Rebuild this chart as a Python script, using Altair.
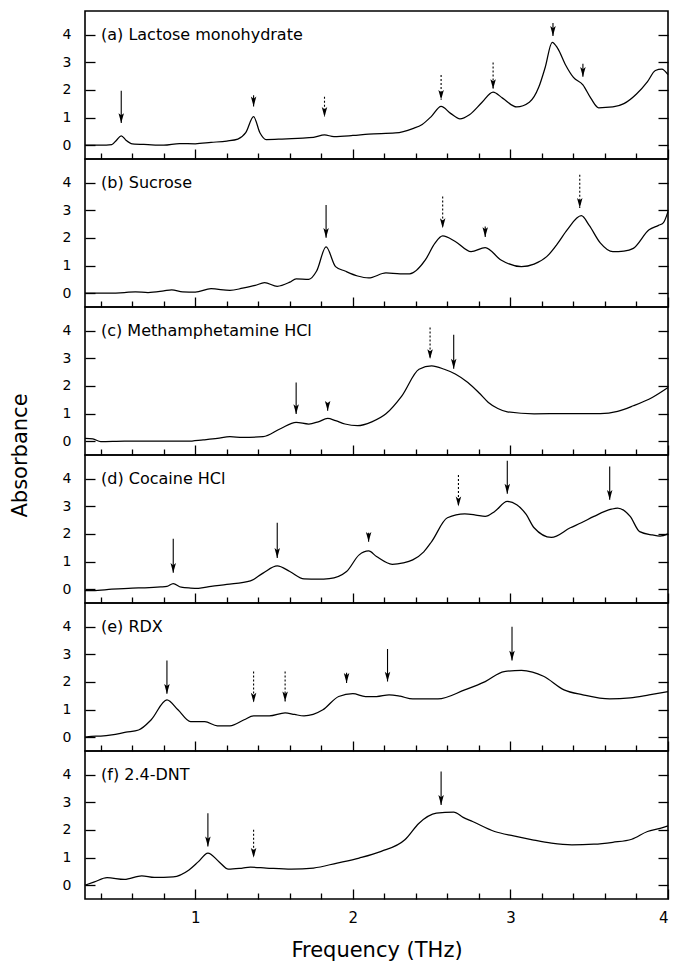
import altair as alt
import pandas as pd

XMIN, XMAX = 0.3, 4.0
YMIN, YMAX = -0.5, 4.85
W, H = 583, 148

panel_labels = ["(a) Lactose monohydrate", "(b) Sucrose", "(c) Methamphetamine HCl",
                "(d) Cocaine HCl", "(e) RDX", "(f) 2.4-DNT"]

major_ticks = [1, 2, 3, 4]
minor_ticks = [0.4, 0.6, 0.8, 1.2, 1.4, 1.6, 1.8, 2.2, 2.4, 2.6, 2.8, 3.2, 3.4, 3.6, 3.8]
y_ticks = [0, 1, 2, 3, 4]

# (a) Lactose monohydrate
lactose_f = [0.30, 0.40, 0.47, 0.50, 0.53, 0.56, 0.60, 0.70, 0.80, 0.90, 1.00, 1.10, 1.20, 1.27, 1.32,
             1.37, 1.41, 1.45, 1.55, 1.65, 1.75, 1.82, 1.88, 2.00, 2.10, 2.27, 2.38, 2.44, 2.50, 2.56,
             2.62, 2.68, 2.74, 2.82, 2.89, 2.95, 3.04, 3.12, 3.18, 3.22, 3.265, 3.30, 3.35, 3.40, 3.46,
             3.51, 3.56, 3.65, 3.72, 3.80, 3.87, 3.92, 3.96, 4.00]
lactose_a = [0.00, 0.00, 0.02, 0.18, 0.34, 0.18, 0.05, 0.02, 0.00, 0.06, 0.05, 0.10, 0.15, 0.22, 0.45,
             1.03, 0.45, 0.20, 0.22, 0.25, 0.28, 0.37, 0.31, 0.35, 0.40, 0.44, 0.60, 0.75, 1.05, 1.40,
             1.15, 0.95, 1.10, 1.55, 1.92, 1.70, 1.38, 1.55, 2.10, 2.80, 3.72, 3.50, 2.90, 2.45, 2.18,
             1.70, 1.35, 1.38, 1.50, 1.85, 2.30, 2.70, 2.75, 2.55]
lactose_arrow_f = [0.53, 1.37, 1.82, 2.56, 2.89, 3.27, 3.46]
lactose_arrow_tip = [0.80, 1.40, 1.02, 1.64, 2.03, 3.95, 2.47]
lactose_arrow_tail = [1.97, 1.80, 1.75, 2.54, 2.99, 4.42, 2.94]
lactose_arrow_style = ["solid", "solid", "dotted", "dotted", "dotted", "solid", "solid"]

# (b) Sucrose
sucrose_f = [0.30, 0.45, 0.55, 0.62, 0.70, 0.80, 0.85, 0.92, 1.00, 1.10, 1.22, 1.30, 1.38, 1.44, 1.52,
             1.60, 1.64, 1.72, 1.77, 1.83, 1.89, 1.95, 2.03, 2.10, 2.21, 2.30, 2.36, 2.46, 2.52, 2.57,
             2.65, 2.75, 2.84, 2.94, 3.07, 3.15, 3.23, 3.30, 3.36, 3.45, 3.50, 3.57, 3.65, 3.72, 3.78,
             3.88, 3.94, 3.97, 4.00]
sucrose_a = [0.00, 0.00, 0.02, 0.05, 0.02, 0.08, 0.12, 0.05, 0.04, 0.16, 0.10, 0.18, 0.28, 0.38, 0.25,
             0.40, 0.52, 0.50, 0.80, 1.67, 0.96, 0.80, 0.62, 0.55, 0.73, 0.70, 0.70, 1.20, 1.80, 2.07,
             1.87, 1.50, 1.65, 1.20, 0.96, 1.05, 1.32, 1.80, 2.29, 2.80, 2.45, 1.82, 1.50, 1.52, 1.62,
             2.29, 2.45, 2.54, 2.95]
sucrose_arrow_f = [1.83, 2.57, 2.84, 3.44]
sucrose_arrow_tip = [2.00, 2.35, 2.03, 3.08]
sucrose_arrow_tail = [3.19, 3.49, 2.41, 4.28]
sucrose_arrow_style = ["solid", "dotted", "solid", "dotted"]

# (c) Methamphetamine HCl
meth_f = [0.30, 0.35, 0.40, 0.55, 0.70, 0.85, 0.95, 1.05, 1.14, 1.22, 1.30, 1.43, 1.54, 1.64, 1.72,
          1.78, 1.84, 1.89, 1.95, 2.03, 2.12, 2.21, 2.31, 2.42, 2.50, 2.58, 2.65, 2.73, 2.80, 2.86,
          2.92, 2.98, 3.15, 3.35, 3.57, 3.68, 3.78, 3.90, 4.00]
meth_a = [0.10, 0.08, -0.02, 0.00, 0.00, 0.00, 0.00, 0.05, 0.10, 0.16, 0.14, 0.16, 0.45, 0.68, 0.62,
          0.70, 0.82, 0.74, 0.62, 0.56, 0.70, 0.99, 1.63, 2.60, 2.72, 2.60, 2.43, 2.12, 1.75, 1.40,
          1.18, 1.06, 0.99, 1.00, 1.00, 1.08, 1.28, 1.58, 1.94]
meth_arrow_f = [1.64, 1.84, 2.49, 2.64]
meth_arrow_tip = [0.98, 1.10, 2.97, 2.62]
meth_arrow_tail = [2.12, 1.36, 4.11, 3.85]
meth_arrow_style = ["solid", "solid", "dotted", "solid"]

# (d) Cocaine HCl
cocaine_f = [0.30, 0.35, 0.47, 0.60, 0.68, 0.78, 0.82, 0.86, 0.91, 0.97, 1.02, 1.10, 1.20, 1.35, 1.43,
             1.52, 1.60, 1.69, 1.78, 1.85, 1.96, 2.04, 2.10, 2.15, 2.25, 2.32, 2.38, 2.45, 2.50, 2.60,
             2.71, 2.78, 2.84, 2.90, 2.98, 3.04, 3.10, 3.15, 3.26, 3.38, 3.45, 3.53, 3.64, 3.68, 3.76,
             3.82, 3.90, 3.95, 4.00]
cocaine_a = [-0.05, -0.05, 0.00, 0.04, 0.05, 0.08, 0.10, 0.20, 0.07, 0.04, 0.03, 0.10, 0.17, 0.30, 0.58,
             0.84, 0.64, 0.37, 0.36, 0.38, 0.64, 1.24, 1.38, 1.18, 0.90, 0.95, 1.06, 1.35, 1.72, 2.58,
             2.72, 2.68, 2.63, 2.81, 3.17, 3.05, 2.70, 2.22, 1.87, 2.22, 2.40, 2.63, 2.89, 2.93, 2.63,
             2.08, 1.96, 1.92, 2.00]
cocaine_arrow_f = [0.86, 1.52, 2.10, 2.67, 2.98, 3.63]
cocaine_arrow_tip = [0.59, 1.13, 1.71, 2.99, 3.45, 3.23]
cocaine_arrow_tail = [1.82, 2.40, 2.04, 4.13, 4.64, 4.43]
cocaine_arrow_style = ["solid", "solid", "solid", "dotted", "solid", "solid"]

# (e) RDX
rdx_f = [0.30, 0.34, 0.40, 0.47, 0.56, 0.64, 0.72, 0.82, 0.89, 0.97, 1.06, 1.14, 1.22, 1.31, 1.37,
         1.47, 1.57, 1.63, 1.69, 1.81, 1.91, 2.00, 2.08, 2.15, 2.23, 2.30, 2.38, 2.54, 2.71, 2.84,
         2.96, 3.07, 3.14, 3.21, 3.34, 3.46, 3.63, 3.76, 3.88, 4.00]
rdx_a = [0.00, 0.03, 0.04, 0.08, 0.18, 0.26, 0.63, 1.35, 0.99, 0.56, 0.56, 0.41, 0.41, 0.63, 0.77,
         0.77, 0.88, 0.82, 0.77, 0.99, 1.47, 1.57, 1.47, 1.47, 1.53, 1.48, 1.38, 1.38, 1.71, 2.01,
         2.37, 2.41, 2.35, 2.20, 1.71, 1.53, 1.38, 1.42, 1.53, 1.65]
rdx_arrow_f = [0.82, 1.37, 1.57, 1.96, 2.22, 3.01]
rdx_arrow_tip = [1.57, 1.25, 1.29, 1.96, 2.01, 2.77]
rdx_arrow_tail = [2.77, 2.37, 2.37, 2.33, 3.19, 3.99]
rdx_arrow_style = ["solid", "dotted", "dotted", "solid", "solid", "solid"]

# (f) 2.4-DNT
dnt_f = [0.30, 0.36, 0.44, 0.55, 0.66, 0.74, 0.86, 0.96, 1.02, 1.08, 1.15, 1.21, 1.30, 1.35, 1.45,
         1.61, 1.75, 1.90, 2.04, 2.18, 2.33, 2.42, 2.53, 2.64, 2.70, 2.76, 2.90, 3.02, 3.14, 3.26,
         3.39, 3.53, 3.65, 3.77, 3.87, 3.95, 4.00]
dnt_a = [0.00, 0.12, 0.27, 0.21, 0.34, 0.28, 0.30, 0.55, 0.85, 1.16, 0.85, 0.58, 0.62, 0.65, 0.62,
         0.58, 0.62, 0.80, 0.98, 1.22, 1.64, 2.24, 2.60, 2.64, 2.45, 2.30, 1.94, 1.78, 1.64, 1.52,
         1.46, 1.48, 1.55, 1.66, 1.94, 2.05, 2.14]
dnt_arrow_f = [1.08, 1.37, 2.56]
dnt_arrow_tip = [1.40, 0.99, 2.90]
dnt_arrow_tail = [2.60, 2.00, 4.11]
dnt_arrow_style = ["solid", "dotted", "solid"]

series = [
    (lactose_f, lactose_a, lactose_arrow_f, lactose_arrow_tip, lactose_arrow_tail, lactose_arrow_style),
    (sucrose_f, sucrose_a, sucrose_arrow_f, sucrose_arrow_tip, sucrose_arrow_tail, sucrose_arrow_style),
    (meth_f, meth_a, meth_arrow_f, meth_arrow_tip, meth_arrow_tail, meth_arrow_style),
    (cocaine_f, cocaine_a, cocaine_arrow_f, cocaine_arrow_tip, cocaine_arrow_tail, cocaine_arrow_style),
    (rdx_f, rdx_a, rdx_arrow_f, rdx_arrow_tip, rdx_arrow_tail, rdx_arrow_style),
    (dnt_f, dnt_a, dnt_arrow_f, dnt_arrow_tip, dnt_arrow_tail, dnt_arrow_style),
]

FONT = "DejaVu Sans"
HEAD = "M0,0 L-1,-3.6 L0,-2.8 L1,-3.6 Z"


def make_panel(i, label, f, a, af, atip, atail, astyle):
    line_df = pd.DataFrame({"f": f, "a": a})
    arr_df = pd.DataFrame({"f": af, "tip": atip, "tail": atail, "style": astyle})
    xs = alt.Scale(domain=[XMIN, XMAX], nice=False, zero=False)
    ys = alt.Scale(domain=[YMIN, YMAX], nice=False, zero=False)
    bottom = i == 5

    major_kw = dict(orient="bottom", values=major_ticks, offset=-10, tickSize=10, domain=False,
                    grid=False, labels=bottom, format="d", labelFlush=True, labelPadding=11,
                    labelFontSize=15, title="")
    if bottom:
        major_kw.update(title="Frequency (THz)", titleFontSize=21, titleFontWeight="normal",
                        titleY=61, titleBaseline="middle")
    major_axis = alt.Axis(**major_kw)
    minor_axis = alt.Axis(orient="bottom", values=minor_ticks, offset=-6, tickSize=6, domain=False,
                          grid=False, labels=False, title="")

    left_kw = dict(orient="left", values=y_ticks, offset=-10, tickSize=10, domain=False, grid=False,
                   labelPadding=14, labelFontSize=14, format="d", title="")
    if i == 2:
        left_kw.update(title="Absorbance", titleX=-75, titleY=148, titleAngle=270,
                       titleBaseline="middle", titleAlign="center", titleFontSize=21,
                       titleFontWeight="normal")
    left_axis = alt.Axis(**left_kw)
    right_axis = alt.Axis(orient="right", values=y_ticks, offset=-10, tickSize=10, domain=False,
                          grid=False, labels=False, title="")

    main = alt.Chart(line_df).mark_line(color="black", strokeWidth=1.25, interpolate="monotone").encode(
        x=alt.X("f:Q", scale=xs, axis=major_axis),
        y=alt.Y("a:Q", scale=ys, axis=left_axis),
    )
    ghost = alt.Chart(line_df).mark_line(strokeOpacity=0).encode(
        x=alt.X("f:Q", scale=xs, axis=minor_axis),
        y=alt.Y("a:Q", scale=ys, axis=right_axis),
    )
    shafts = alt.Chart(arr_df).mark_rule(color="black", strokeWidth=1.1).encode(
        x=alt.X("f:Q", scale=xs, axis=None),
        y=alt.Y("tail:Q", scale=ys, axis=None),
        y2="tip:Q",
        strokeDash=alt.StrokeDash("style:N",
                                  scale=alt.Scale(domain=["solid", "dotted"], range=[[1, 0], [2, 2]]),
                                  legend=None),
    )
    heads = alt.Chart(arr_df).mark_point(filled=True, color="black", shape=HEAD, size=30,
                                          opacity=1, strokeWidth=0).encode(
        x=alt.X("f:Q", scale=xs, axis=None),
        y=alt.Y("tip:Q", scale=ys, axis=None),
    )
    text = alt.Chart(pd.DataFrame({"label": [label]})).mark_text(
        align="left", baseline="middle", fontSize=16, font=FONT, color="black").encode(
        x=alt.value(16), y=alt.value(24), text="label:N")

    return alt.layer(main, ghost, shafts, heads, text).resolve_scale(
        x="shared", y="shared").resolve_axis(x="independent", y="independent").properties(
        width=W, height=H)


panels = [make_panel(i, panel_labels[i], *series[i]) for i in range(6)]

chart = alt.vconcat(*panels, spacing=0, bounds="flush").properties(
    padding={"left": 0, "top": 2, "right": 0, "bottom": 0}
).configure_view(stroke="black", strokeWidth=1.6).configure_axis(
    tickColor="black", tickWidth=1.3, labelColor="black", titleColor="black",
    labelFont=FONT, titleFont=FONT)

chart.save("out.html", embed_options={"renderer": "svg", "actions": False})
